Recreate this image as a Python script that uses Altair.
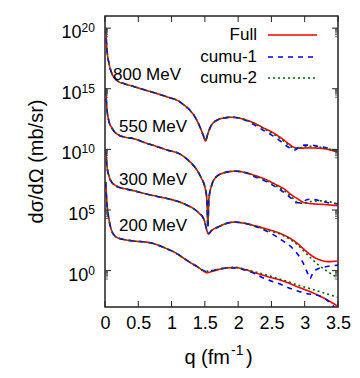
import altair as alt
import pandas as pd
import numpy as np

# ---------------- data (log10 of dσ/dΩ, scaled curves) -------------
series_names = ["Full", "cumu-1", "cumu-2"]
series_colors = ["#ff0000", "#0000ff", "#006400"]
energies = ["800 MeV", "550 MeV", "300 MeV", "200 MeV"]

# 800 MeV
q_800_full = [0.01, 0.03, 0.06, 0.1, 0.15, 0.2, 0.3, 0.42, 0.6, 0.78, 0.95, 1.1, 1.2, 1.28, 1.36, 1.43, 1.48, 1.51, 1.54, 1.58, 1.68, 1.8, 1.9, 2.0, 2.13, 2.25, 2.37, 2.5, 2.63, 2.75, 2.85, 2.95, 3.05, 3.2, 3.35, 3.5]
lg_800_full = [20.0, 18.2, 17.1, 16.3, 15.85, 15.6, 15.4, 15.2, 14.9, 14.6, 14.3, 14.0, 13.6, 13.2, 12.6, 11.8, 11.1, 10.7, 11.2, 11.8, 12.4, 12.6, 12.65, 12.6, 12.4, 12.15, 11.8, 11.45, 11.0, 10.5, 10.15, 10.1, 10.12, 10.1, 10.0, 9.75]
q_800_c1 = q_800_full[:24] + [2.13, 2.25, 2.37, 2.5, 2.63, 2.75, 2.85, 2.92, 3.0, 3.1, 3.2, 3.35, 3.5]
lg_800_c1 = lg_800_full[:24] + [12.35, 12.0, 11.6, 11.2, 10.7, 10.2, 9.95, 10.2, 10.35, 10.35, 10.25, 10.1, 9.85]
q_800_c2 = q_800_full[:25] + [2.25, 2.37, 2.5, 2.63, 2.75, 2.85, 2.95, 3.05, 3.2, 3.35, 3.5]
lg_800_c2 = lg_800_full[:25] + [12.1, 11.75, 11.35, 10.9, 10.4, 10.05, 10.15, 10.25, 10.2, 10.05, 9.8]

# 550 MeV
q_550_full = [0.01, 0.03, 0.06, 0.1, 0.15, 0.2, 0.3, 0.42, 0.6, 0.8, 0.93, 1.13, 1.25, 1.38, 1.45, 1.5, 1.53, 1.545, 1.56, 1.6, 1.65, 1.75, 1.95, 2.1, 2.25, 2.4, 2.55, 2.7, 2.8, 2.9, 2.97, 3.05, 3.15, 3.3, 3.5]
lg_550_full = [15.0, 13.3, 12.3, 11.8, 11.4, 11.2, 11.0, 10.9, 10.55, 10.2, 9.95, 9.6, 9.1, 8.3, 7.6, 6.9, 5.9, 3.9, 5.9, 7.0, 7.6, 8.0, 8.2, 8.1, 7.85, 7.55, 7.15, 6.7, 6.25, 5.9, 5.65, 5.55, 5.5, 5.45, 5.35]
q_550_c1 = q_550_full[:17] + [1.545, 1.56] + q_550_full[19:24] + [2.25, 2.4, 2.55, 2.7, 2.8, 2.88, 2.95, 3.03, 3.1, 3.2, 3.35, 3.5]
lg_550_c1 = lg_550_full[:17] + [3.5, 5.8] + lg_550_full[19:24] + [7.75, 7.4, 6.95, 6.4, 5.95, 5.6, 5.6, 5.85, 5.9, 5.8, 5.6, 5.5]
q_550_c2 = q_550_full[:17] + [1.545, 1.56] + q_550_full[19:24] + [2.25, 2.4, 2.55, 2.7, 2.8, 2.9, 2.97, 3.1, 3.25, 3.5]
lg_550_c2 = lg_550_full[:17] + [3.7, 5.85] + lg_550_full[19:24] + [7.8, 7.5, 7.05, 6.55, 6.1, 5.6, 5.55, 5.7, 5.75, 5.5]

# 300 MeV
q_300_full = [0.01, 0.03, 0.06, 0.1, 0.15, 0.22, 0.3, 0.42, 0.6, 0.8, 0.93, 1.1, 1.25, 1.32, 1.42, 1.47, 1.5, 1.53, 1.555, 1.6, 1.7, 1.8, 1.95, 2.1, 2.25, 2.45, 2.66, 2.8, 2.9, 3.0, 3.15, 3.25, 3.35, 3.5]
lg_300_full = [10.0, 8.6, 7.8, 7.3, 7.05, 6.85, 6.75, 6.6, 6.35, 6.1, 5.95, 5.7, 5.35, 5.15, 4.7, 4.4, 4.0, 3.3, 3.05, 3.3, 3.6, 3.85, 4.0, 3.9, 3.7, 3.4, 3.0, 2.6, 2.2, 1.7, 1.07, 0.85, 0.74, 0.8]
q_300_c1 = q_300_full[:24] + [2.3, 2.45, 2.66, 2.85, 2.97, 3.05, 3.08, 3.12, 3.2, 3.3, 3.5]
lg_300_c1 = lg_300_full[:24] + [3.55, 3.2, 2.5, 1.65, 0.7, -0.3, -0.66, -0.2, 0.15, 0.3, 0.45]
q_300_c2 = q_300_full[:24] + [2.3, 2.45, 2.66, 2.8, 2.9, 3.0, 3.1, 3.2, 3.35, 3.5]
lg_300_c2 = lg_300_full[:24] + [3.6, 3.3, 2.95, 2.5, 2.1, 1.55, 1.0, 0.5, -0.1, -0.6]

# 200 MeV
q_200_full = [0.01, 0.03, 0.06, 0.1, 0.15, 0.22, 0.3, 0.42, 0.68, 0.93, 1.05, 1.17, 1.3, 1.38, 1.46, 1.53, 1.6, 1.65, 1.8, 1.95, 2.1, 2.25, 2.45, 2.66, 2.9, 3.15, 3.35, 3.5]
lg_200_full = [7.3, 5.5, 4.2, 3.3, 2.85, 2.65, 2.55, 2.45, 2.3, 1.8, 1.5, 1.07, 0.6, 0.35, 0.05, -0.17, -0.08, 0.0, 0.2, 0.25, 0.1, -0.17, -0.5, -0.83, -1.35, -1.9, -2.45, -2.95]
q_200_c1 = q_200_full[:15] + [1.53, 1.6, 1.65, 1.8, 1.95, 2.1, 2.25, 2.4, 2.6, 2.8, 3.0, 3.25, 3.4, 3.45]
lg_200_c1 = lg_200_full[:15] + [-0.08, -0.02, 0.05, 0.2, 0.22, 0.05, -0.25, -0.66, -1.05, -1.5, -1.85, -2.15, -2.75, -3.05]
q_200_c2 = q_200_full[:15] + [1.53, 1.6, 1.65, 1.8, 1.95, 2.1, 2.25, 2.45, 2.66, 2.9, 3.15, 3.35, 3.5]
lg_200_c2 = lg_200_full[:15] + [-0.05, 0.0, 0.05, 0.22, 0.27, 0.12, -0.1, -0.4, -0.75, -1.2, -1.6, -1.95, -2.2]

# energy labels (position in data coordinates)
label_q = [0.12, 0.21, 0.21, 0.21]
label_lg = [16.17, 11.84, 7.47, 3.68]

x_ticks = [0, 0.5, 1, 1.5, 2, 2.5, 3, 3.5]
y_tick_exp = [0, 5, 10, 15, 20]

# ---------------- build tables ----------------
curves = {
    ("800 MeV", "Full"): (q_800_full, lg_800_full),
    ("800 MeV", "cumu-1"): (q_800_c1, lg_800_c1),
    ("800 MeV", "cumu-2"): (q_800_c2, lg_800_c2),
    ("550 MeV", "Full"): (q_550_full, lg_550_full),
    ("550 MeV", "cumu-1"): (q_550_c1, lg_550_c1),
    ("550 MeV", "cumu-2"): (q_550_c2, lg_550_c2),
    ("300 MeV", "Full"): (q_300_full, lg_300_full),
    ("300 MeV", "cumu-1"): (q_300_c1, lg_300_c1),
    ("300 MeV", "cumu-2"): (q_300_c2, lg_300_c2),
    ("200 MeV", "Full"): (q_200_full, lg_200_full),
    ("200 MeV", "cumu-1"): (q_200_c1, lg_200_c1),
    ("200 MeV", "cumu-2"): (q_200_c2, lg_200_c2),
}
rows = []
for (en, s), (qs, ls) in curves.items():
    for q, l in zip(qs, ls):
        rows.append({"energy": en, "series": s, "q": q, "v": 10.0 ** l})
df = pd.DataFrame(rows)

W, H = 233, 291
FONT = "Liberation Sans"
xs = alt.Scale(domain=[0, 3.5], nice=False, zero=False)
ys = alt.Scale(type="log", domain=[1e-3, 1e21], nice=False)
xaxis = alt.Axis(values=x_ticks, format="~g", domain=False, ticks=False, grid=False,
                 labelFontSize=18, labelFont=FONT, labelColor="black", labelPadding=7,
                 title=None, labelOverlap=False, labelFlush=False, labelBound=False)

dashes = {"Full": [1, 0], "cumu-1": [5, 5], "cumu-2": [2, 3]}
line_layers = []
for s, c in zip(series_names, series_colors):
    line_layers.append(
        alt.Chart(df[df.series == s]).mark_line(
            clip=True, strokeWidth=1.6, color=c, strokeDash=dashes[s], interpolate="monotone"
        ).encode(
            x=alt.X("q:Q", scale=xs, axis=xaxis),
            y=alt.Y("v:Q", scale=ys, axis=None),
            detail="energy:N",
            order="q:Q",
        )
    )

# energy labels
lab_df = pd.DataFrame({"t": energies, "q": label_q, "v": [10.0 ** l for l in label_lg]})
labels = alt.Chart(lab_df).mark_text(align="left", baseline="middle", fontSize=17, font=FONT, color="black").encode(
    x=alt.X("q:Q", scale=xs, axis=xaxis), y=alt.Y("v:Q", scale=ys, axis=None), text="t:N")

# ticks
xt_df = pd.DataFrame({"q": x_ticks})
xt_bot = alt.Chart(xt_df).mark_rule(color="#222", strokeWidth=1).encode(
    x=alt.X("q:Q", scale=xs, axis=xaxis), y=alt.value(H), y2=alt.value(H - 6))
xt_top = alt.Chart(xt_df).mark_rule(color="#222", strokeWidth=1).encode(
    x=alt.X("q:Q", scale=xs, axis=xaxis), y=alt.value(0), y2=alt.value(6))
yt_df = pd.DataFrame({"v": [10.0 ** e for e in y_tick_exp]})
yt_l = alt.Chart(yt_df).mark_rule(color="#222", strokeWidth=1).encode(
    y=alt.Y("v:Q", scale=ys, axis=None), x=alt.value(0), x2=alt.value(6))
yt_r = alt.Chart(yt_df).mark_rule(color="#222", strokeWidth=1).encode(
    y=alt.Y("v:Q", scale=ys, axis=None), x=alt.value(W), x2=alt.value(W - 6))
ym_df = pd.DataFrame({"v": [k * 10.0 ** (e - 1) for e in y_tick_exp for k in range(2, 10)]})
ym_l = alt.Chart(ym_df).mark_rule(color="#444", strokeWidth=0.8).encode(
    y=alt.Y("v:Q", scale=ys, axis=None), x=alt.value(0), x2=alt.value(3))
ym_r = alt.Chart(ym_df).mark_rule(color="#444", strokeWidth=0.8).encode(
    y=alt.Y("v:Q", scale=ys, axis=None), x=alt.value(W), x2=alt.value(W - 3))

# y tick labels "10" + superscript exponent
ylab_df = pd.DataFrame({"v": [10.0 ** e for e in y_tick_exp], "e": [str(e) for e in y_tick_exp]})
ylab_base = alt.Chart(ylab_df).transform_calculate(
    xp="-10 - 6.7 * length(datum.e)", b="'10'")
ylab10 = ylab_base.mark_text(align="right", baseline="alphabetic", dy=10, fontSize=18, font=FONT, color="black").encode(
    x=alt.X("xp:Q", scale=None), y=alt.Y("v:Q", scale=ys, axis=None), text="b:N")
ylabexp = ylab_base.mark_text(align="left", baseline="alphabetic", dy=4, fontSize=12, font=FONT, color="black").encode(
    x=alt.X("xp:Q", scale=None), y=alt.Y("v:Q", scale=ys, axis=None), text="e:N")

# axis titles
ytitle = alt.Chart(pd.DataFrame({"t": ["dσ/dΩ (mb/sr)"]})).mark_text(
    angle=270, align="center", baseline="middle", fontSize=20, font=FONT, color="black").encode(
    x=alt.value(-68), y=alt.value(H / 2), text="t:N")
xt1 = alt.Chart(pd.DataFrame({"t": ["q (fm"]})).mark_text(
    align="right", baseline="alphabetic", fontSize=20, font=FONT, color="black").encode(
    x=alt.value(125), y=alt.value(348), text="t:N")
xt2 = alt.Chart(pd.DataFrame({"t": ["-1"]})).mark_text(
    align="left", baseline="alphabetic", fontSize=14, font=FONT, color="black").encode(
    x=alt.value(126), y=alt.value(339), text="t:N")
xt3 = alt.Chart(pd.DataFrame({"t": [")"]})).mark_text(
    align="left", baseline="alphabetic", fontSize=20, font=FONT, color="black").encode(
    x=alt.value(141), y=alt.value(348), text="t:N")

# legend (text left of sample line)
leg_rows = [19, 41, 62]
leg_layers = []
for s, c, yy in zip(series_names, series_colors, leg_rows):
    leg_layers.append(alt.Chart(pd.DataFrame({"t": [s]})).mark_text(
        align="right", baseline="middle", fontSize=17, font=FONT, color="black").encode(
        x=alt.value(152), y=alt.value(yy), text="t:N"))
    leg_layers.append(alt.Chart(pd.DataFrame({"t": [s]})).mark_rule(
        color=c, strokeWidth=1.6, strokeDash=dashes[s]).encode(
        x=alt.value(163), x2=alt.value(212), y=alt.value(yy)))

chart = alt.layer(
    *line_layers, labels, xt_bot, xt_top, yt_l, yt_r, ym_l, ym_r, ylab10, ylabexp,
    ytitle, xt1, xt2, xt3, *leg_layers
).properties(
    width=W, height=H, autosize="none",
    padding={"left": 97, "top": 8, "right": 14, "bottom": 63},
).configure_view(stroke="#222", strokeWidth=1.5)

chart.save("out.html", embed_options={"renderer": "svg", "actions": False})
